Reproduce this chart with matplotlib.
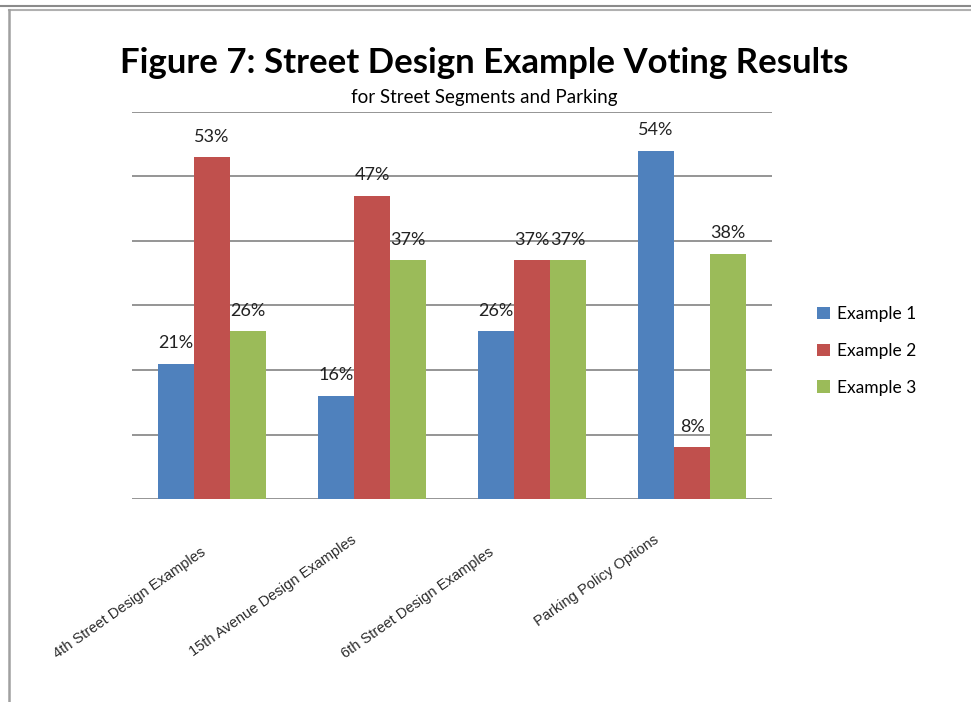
import matplotlib.pyplot as plt
import numpy as np
from matplotlib.lines import Line2D

# data
categories = ["4th Street Design Examples", "15th Avenue Design Examples",
              "6th Street Design Examples", "Parking Policy Options"]
series_names = ["Example 1", "Example 2", "Example 3"]
example1 = [21, 16, 26, 54]
example2 = [53, 47, 37, 8]
example3 = [26, 37, 37, 38]
colors = ["#4F81BD", "#C0504D", "#9BBB59"]

# pixel nudges of the rotated category labels (Excel places them unevenly)
label_dx = [-12, -21, -44, -39]
label_dy = [-46, -34, -46, -34]

fig = plt.figure(figsize=(9.71, 7.02), dpi=100)
ax = fig.add_axes([132 / 971, 1 - 499 / 702, 640 / 971, 387 / 702])

x = np.arange(len(categories))
w = 0.225
for i, (vals, name, c) in enumerate(zip([example1, example2, example3], series_names, colors)):
    bars = ax.bar(x + (i - 1) * w, vals, width=w, color=c, label=name, zorder=3)
    for b, v in zip(bars, vals):
        ax.annotate(f"{v}%", (b.get_x() + b.get_width() / 2, v), xytext=(0, 9),
                    textcoords="offset points", ha="center", va="bottom",
                    fontsize=13, family="Lato", color="#222222")

ax.set_xlim(-0.5, len(categories) - 0.5)
ax.set_ylim(0, 60)
ax.set_yticks(range(0, 61, 10))
ax.yaxis.grid(True, color="#8c8c8c", linewidth=1.3, zorder=0)
ax.tick_params(axis="y", left=False, labelleft=False)
ax.set_xticks(x)
ax.tick_params(axis="x", length=0, labelbottom=False)
for s in ax.spines.values():
    s.set_visible(False)

# category labels, rotated
for xi, cat, dx, dy in zip(x, categories, label_dx, label_dy):
    ax.annotate(cat, (xi, 0), xycoords=ax.get_xaxis_transform(), xytext=(dx, dy),
                textcoords="offset pixels", rotation=35, rotation_mode="anchor",
                ha="right", va="top", fontsize=10.5, family="Liberation Sans",
                color="#2a2a2a", annotation_clip=False)

fig.text(0.499, 1 - 63 / 702, "Figure 7: Street Design Example Voting Results",
         ha="center", va="center", fontsize=25, fontweight="bold", family="Lato")
fig.text(0.499, 1 - 97 / 702, "for Street Segments and Parking",
         ha="center", va="center", fontsize=13.5, family="Lato")

ax.legend(loc="center left", bbox_to_anchor=(801 / 971, 1 - 351 / 702),
          bbox_transform=fig.transFigure, frameon=False, handlelength=0.75,
          handleheight=0.75, handletextpad=0.45, labelspacing=1.2,
          prop={"family": "Lato", "size": 12.5})

# page frame lines
fig.add_artist(Line2D([0, 1], [1 - 6 / 702] * 2, transform=fig.transFigure, color="#8a8a8a", lw=1.5))
fig.add_artist(Line2D([8.5 / 971, 1], [1 - 10 / 702] * 2, transform=fig.transFigure, color="#b0b0b0", lw=1.5))
fig.add_artist(Line2D([8.5 / 971] * 2, [0, 1 - 10 / 702], transform=fig.transFigure, color="#a0a0a0", lw=1.8))

fig.savefig("out.png", dpi=100)
